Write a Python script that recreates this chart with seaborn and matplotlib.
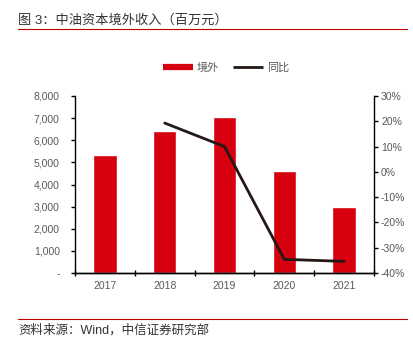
import matplotlib
matplotlib.use("Agg")
import matplotlib.pyplot as plt
import seaborn as sns
import numpy as np
import pandas as pd
from matplotlib.lines import Line2D
from matplotlib.ticker import FuncFormatter, FixedLocator

years = ["2017", "2018", "2019", "2020", "2021"]
overseas = [5350, 6420, 7065, 4597, 2970]
yoy_years = ["2018", "2019", "2020", "2021"]
yoy = [19.3, 10.0, -34.6, -35.4]

title = "图 3：中油资本境外收入（百万元）"
source = "资料来源：Wind，中信证券研究部"
legend_labels = ["境外", "同比"]

sns.set_theme(style="white")
plt.rcParams['font.family'] = ['Liberation Sans', 'Noto Sans CJK SC', 'DejaVu Sans']

bar_color = "#D7000F"
line_color = "#231815"
gray = "#595959"

fig = plt.figure(figsize=(4.13, 3.37), dpi=100)
ax = fig.add_axes([75/413, 1-273/337, 299/413, 177/337])

df = pd.DataFrame({"year": years, "value": overseas})
sns.barplot(data=df, x="year", y="value", ax=ax, color=bar_color, width=0.39,
            saturation=1, order=years)
ax.set_xlim(-0.5, 4.5)
ax.set_ylim(0, 8000)
ax.set_yticks(np.arange(0, 8001, 1000))
ax.yaxis.set_major_formatter(FuncFormatter(lambda v, p: "-" if v == 0 else f"{int(v):,}"))
ax.set_xlabel("")
ax.set_ylabel("")

ax2 = ax.twinx()
pos = [years.index(y) for y in yoy_years]
ldf = pd.DataFrame({"pos": pos, "yoy": yoy})
sns.lineplot(data=ldf, x="pos", y="yoy", ax=ax2, color=line_color, linewidth=2.0)
ax2.set_ylim(-40, 30)
ax2.set_yticks(np.arange(-40, 31, 10))
ax2.yaxis.set_major_formatter(FuncFormatter(lambda v, p: f"{int(v)}%"))
ax2.set_xlim(-0.5, 4.5)
ax2.set_xlabel("")
ax2.set_ylabel("")

for a in (ax, ax2):
    a.spines['top'].set_visible(False)
    for s in ('left', 'right', 'bottom'):
        a.spines[s].set_color("black")
        a.spines[s].set_linewidth(1.0)
ax.spines['right'].set_visible(False)
ax2.spines['left'].set_visible(False)

ax.tick_params(axis='y', direction='out', length=3, width=1, color='black',
               labelsize=7.5, labelcolor=gray, pad=8, left=True)
ax2.tick_params(axis='y', direction='out', length=3, width=1, color='black',
                labelsize=7.5, labelcolor=gray, pad=2, right=True)
ax.tick_params(axis='x', which='major', length=0, labelsize=7.5, labelcolor=gray, pad=6)
ax.xaxis.set_minor_locator(FixedLocator(np.arange(-0.5, 4.6, 1)))
ax.tick_params(axis='x', which='minor', direction='inout', length=5, width=1,
               color='black', bottom=True)

handles = [Line2D([0], [0], color=bar_color, lw=4.5, solid_capstyle='butt'),
           Line2D([0], [0], color=line_color, lw=2, solid_capstyle='butt')]
fig.legend(handles, legend_labels, loc='center', bbox_to_anchor=(0.547, 1-68/337),
           ncol=2, frameon=False, fontsize=8, handlelength=2.7, handletextpad=0.35,
           columnspacing=1.3, labelcolor=gray)

fig.text(18/413, 1-20/337, title, fontsize=9.5, color="#333333", va='center', ha='left')
fig.add_artist(Line2D([18/413, 407/413], [1-29/337, 1-29/337], color="#C00000", lw=0.8))
fig.add_artist(Line2D([18/413, 407/413], [1-319/337, 1-319/337], color="#C00000", lw=0.8))
fig.text(18/413, 1-330/337, source, fontsize=9, color="#333333", va='center', ha='left')

fig.savefig("out.png", dpi=100)
